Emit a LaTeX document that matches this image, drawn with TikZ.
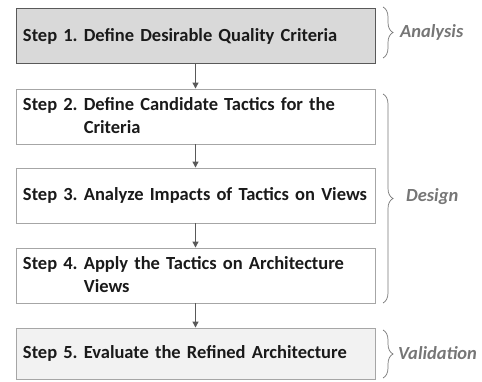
\documentclass[tikz,border=0pt]{standalone}
\usepackage{fontspec}
\setmainfont{Carlito}
\usetikzlibrary{arrows.meta,decorations.pathreplacing}

\definecolor{boxline}{HTML}{A6A6A6}
\definecolor{darkline}{HTML}{595959}
\definecolor{phasegray}{HTML}{767676}
\definecolor{textdark}{HTML}{1A1A1A}

\begin{document}
\frenchspacing
\begin{tikzpicture}[x=1pt,y=-1pt,
    stepbox/.style={draw=boxline, line width=0.9pt, fill=white,
      minimum width=359pt, minimum height=55pt, text width=345pt,
      align=left, inner sep=7pt, text=textdark,
      font=\fontsize{18.5}{23}\selectfont\bfseries},
    flowarrow/.style={draw=darkline, line width=1.1pt,
      -{Triangle[length=6pt,width=6pt]}},
    phasebrace/.style={draw=phasegray, line width=0.7pt,
      decorate, decoration={brace, amplitude=10pt}},
    phaselabel/.style={anchor=west, text=phasegray, inner sep=0pt,
      font=\fontsize{18.5}{22}\selectfont\bfseries\itshape}]
  \useasboundingbox (0,0) rectangle (482,382);

  % steps
  \node[stepbox, fill=black!15, draw=darkline] (s1) at (195.5,36) {Step 1. Define Desirable Quality Criteria};
  \node[stepbox] (s2) at (195.5,116.5) {Step 2. Define Candidate Tactics for the\\\phantom{Step 2.} Criteria};
  \node[stepbox] (s3) at (195.5,195.5) {Step 3. Analyze Impacts of Tactics on Views};
  \node[stepbox] (s4) at (195.5,275.5) {Step 4. Apply the Tactics on Architecture\\\phantom{Step 4.} Views};
  \node[stepbox, fill=black!5, minimum height=51pt] (s5) at (195.5,353.5) {Step 5. Evaluate the Refined Architecture};

  \draw[flowarrow] (s1) -- (s2);
  \draw[flowarrow] (s2) -- (s3);
  \draw[flowarrow] (s3) -- (s4);
  \draw[flowarrow] (s4) -- (s5);

  % phases
  \coordinate (a1) at (383,7);
  \coordinate (a2) at (383,58);
  \coordinate (d1) at (383,94);
  \coordinate (d2) at (383,303);
  \coordinate (v1) at (383,330);
  \coordinate (v2) at (383,378);
  \draw[phasebrace] (a1) -- (a2);
  \draw[phasebrace] (d1) -- (d2);
  \draw[phasebrace] (v1) -- (v2);

  \node[phaselabel] (analysis) at (400,32) {Analysis};
  \node[phaselabel] (design) at (406,197) {Design};
  \node[phaselabel] (validation) at (398,353) {Validation};
\end{tikzpicture}
\end{document}
